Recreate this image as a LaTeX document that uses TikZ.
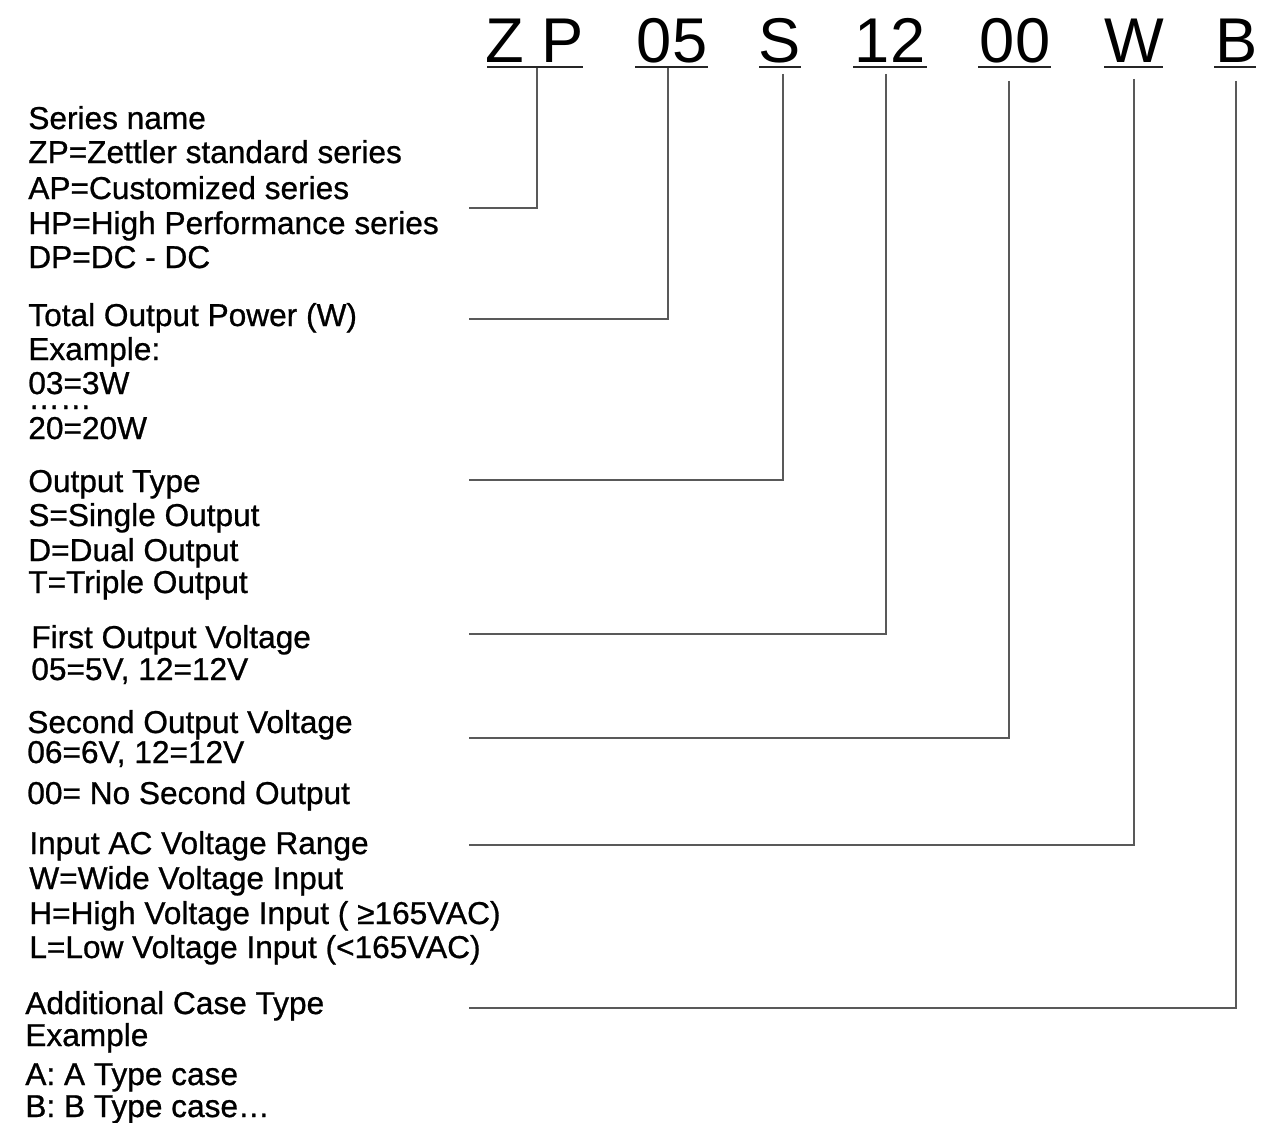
\documentclass[tikz,border=0pt]{standalone}
\usepackage{fontspec}
\setmainfont{Liberation Sans}
\newfontfamily\lblfont{Liberation Sans}[FakeBold=0.8]
\begin{document}
\begin{tikzpicture}[x=0.02cm,y=-0.02cm,
  lbl/.style={anchor=base west,inner sep=0pt,font=\lblfont\fontsize{18}{20}\selectfont},
  code/.style={anchor=base,inner sep=0pt,font=\fontsize{36}{40}\selectfont},
  uline/.style={line width=1.7pt,black!85},
  conn/.style={line width=0.9pt,black!65}]
\useasboundingbox (0,0) rectangle (1270,1122);
% code
\node[code] (zp) at (535,63) {Z P};
\node[code] (p05) at (672,63) {05};
\node[code] (s) at (780,63) {S};
\node[code] (v12) at (890,63) {12};
\node[code] (v00) at (1015,63) {00};
\node[code] (w) at (1134,63) {W};
\node[code] (b) at (1237,63) {B};
\draw[uline] (487,67) -- (583,67);
\draw[uline] (635,67) -- (708,67);
\draw[uline] (759,67) -- (801,67);
\draw[uline] (853,67) -- (927,67);
\draw[uline] (978,67) -- (1051,67);
\draw[uline] (1104,67) -- (1163,67);
\draw[uline] (1214,67) -- (1256,67);
% line tops
\coordinate (t1) at (537,68);
\coordinate (t2) at (668,68);
\coordinate (t3) at (783,74);
\coordinate (t4) at (886,74);
\coordinate (t5) at (1009,81);
\coordinate (t6) at (1134,79);
\coordinate (t7) at (1236,81);
% line ends
\coordinate (e1) at (469,208);
\coordinate (e2) at (469,319);
\coordinate (e3) at (469,480);
\coordinate (e4) at (469,634);
\coordinate (e5) at (469,738);
\coordinate (e6) at (469,845);
\coordinate (e7) at (469,1008);
\draw[conn] (t1) |- (e1);
\draw[conn] (t2) |- (e2);
\draw[conn] (t3) |- (e3);
\draw[conn] (t4) |- (e4);
\draw[conn] (t5) |- (e5);
\draw[conn] (t6) |- (e6);
\draw[conn] (t7) |- (e7);
% block 1
\node[lbl] (a1) at (28,129) {Series name};
\node[lbl] (a2) at (28,163) {ZP=Zettler standard series};
\node[lbl] (a3) at (28,199) {AP=Customized series};
\node[lbl] (a4) at (28,234) {HP=High Performance series};
\node[lbl] (a5) at (28,268) {DP=DC - DC};
% block 2
\node[lbl] (b1) at (28,326) {Total Output Power (W)};
\node[lbl] (b2) at (28,360) {Example:};
\node[lbl] (b3) at (28,394) {03=3W};
\node[lbl] (b4) at (28,409) {……};
\node[lbl] (b5) at (28,439) {20=20W};
% block 3
\node[lbl] (c1) at (28,492) {Output Type};
\node[lbl] (c2) at (28,526) {S=Single Output};
\node[lbl] (c3) at (28,561) {D=Dual Output};
\node[lbl] (c4) at (28,593) {T=Triple Output};
% block 4
\node[lbl] (d1) at (31,648) {First Output Voltage};
\node[lbl] (d2) at (31,680) {05=5V, 12=12V};
% block 5
\node[lbl] (f1) at (27,733) {Second Output Voltage};
\node[lbl] (f2) at (27,763) {06=6V, 12=12V};
\node[lbl] (f3) at (27,804) {00= No Second Output};
% block 6
\node[lbl] (g1) at (29,854) {Input AC Voltage Range};
\node[lbl] (g2) at (29,889) {W=Wide Voltage Input};
\node[lbl] (g3) at (29,924) {H=High Voltage Input ( ≥165VAC)};
\node[lbl] (g4) at (29,958) {L=Low Voltage Input (<165VAC)};
% block 7
\node[lbl] (h1) at (25,1014) {Additional Case Type};
\node[lbl] (h2) at (25,1046) {Example};
\node[lbl] (h3) at (25,1085) {A: A Type case};
\node[lbl] (h4) at (25,1117) {B: B Type case…};
\end{tikzpicture}
\end{document}
